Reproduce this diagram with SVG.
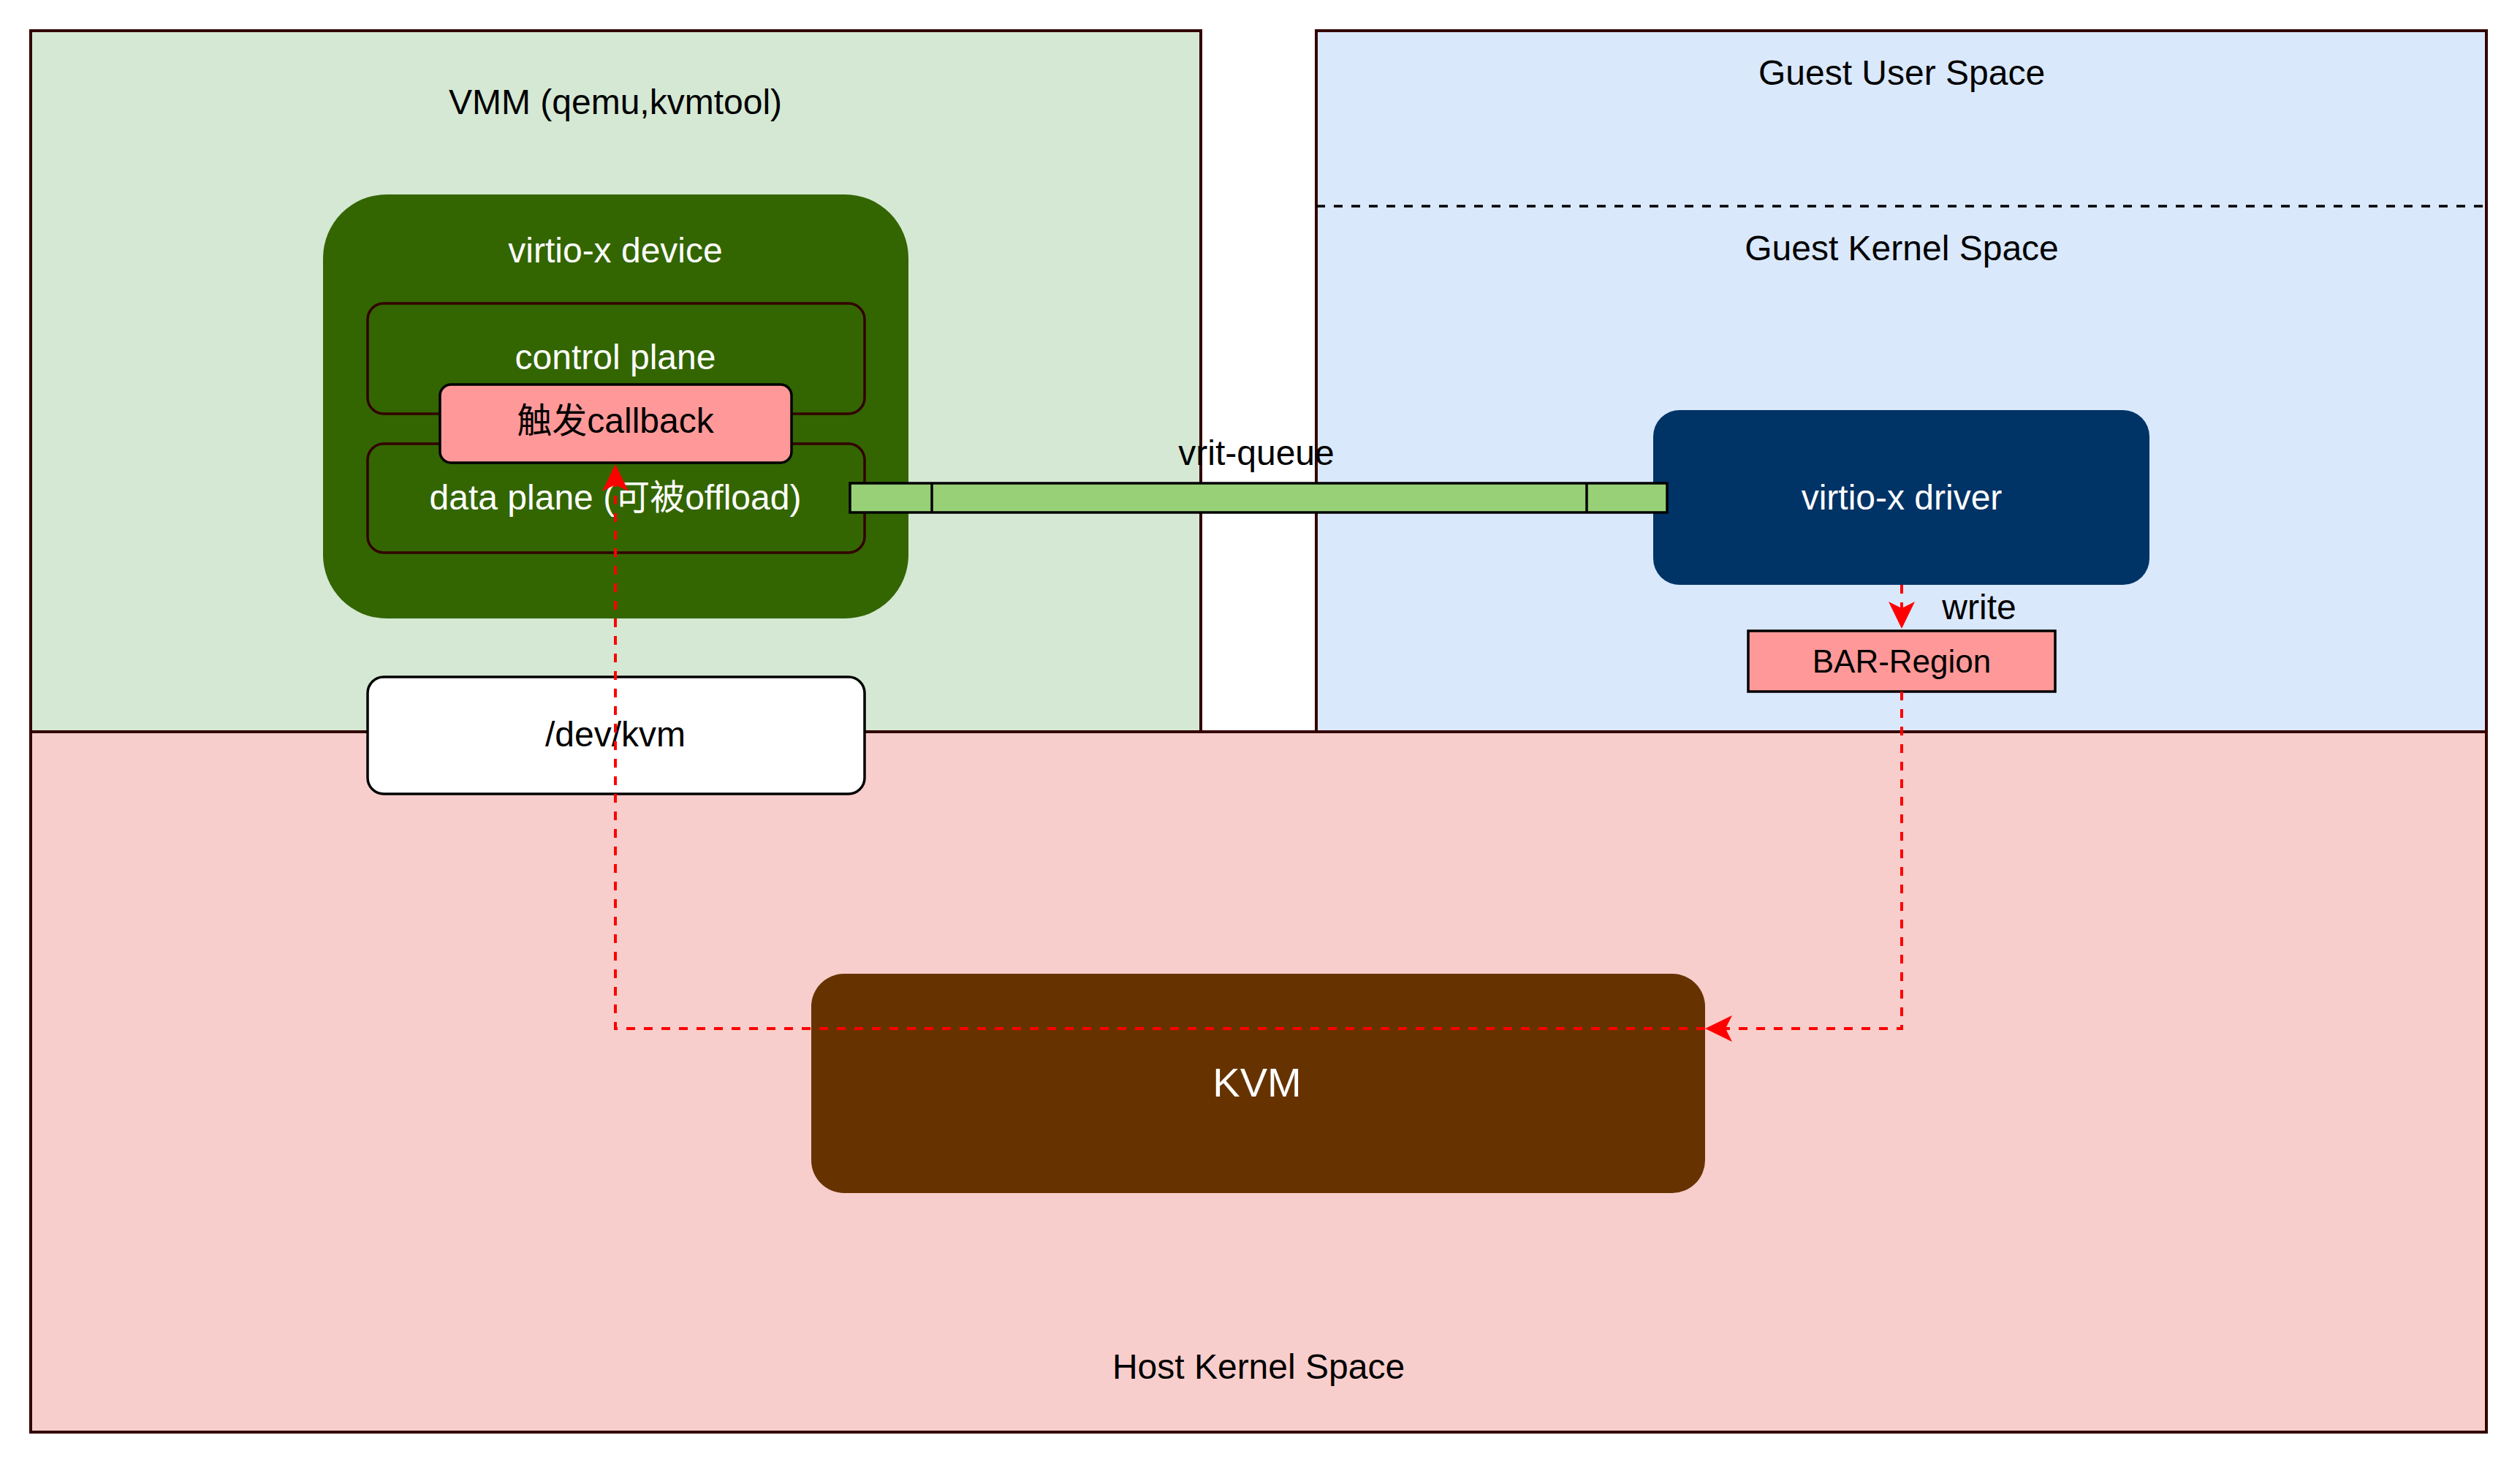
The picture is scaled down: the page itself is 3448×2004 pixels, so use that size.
<svg xmlns="http://www.w3.org/2000/svg" width="3448" height="2004" viewBox="0 0 3448 2004">
<style>
  text { font-family: "Liberation Sans", "Noto Sans CJK SC", Arial, sans-serif; font-size: 48px; text-anchor: middle; fill: #000000; }
  .w { fill: #ffffff; }
  .container { stroke: #330000; stroke-width: 4; }
  .inner { fill: #336600; stroke: #330000; stroke-width: 3.5; }
  .blk { stroke: #000000; stroke-width: 3.5; }
  .edge { fill: none; stroke: #ff0000; stroke-width: 4; stroke-dasharray: 12 12; }
</style>
<defs>
  <marker id="arr" markerUnits="userSpaceOnUse" viewBox="-40 -20 40 40" markerWidth="40" markerHeight="40" refX="-28" refY="0" orient="auto">
    <path d="M0,0 L-37,-18 L-28,0 L-37,18 Z" fill="#ff0000"/>
  </marker>
</defs>
<rect x="0" y="0" width="3448" height="2004" fill="#ffffff"/>

<g id="vmm">
  <rect class="container" x="42" y="42" width="1601" height="959" fill="#d5e8d4"/>
  <text x="842" y="156">VMM (qemu,kvmtool)</text>
</g>
<g id="guest">
  <rect class="container" x="1801" y="42" width="1601" height="959" fill="#dae8fc"/>
  <line x1="1801" y1="282" x2="3402" y2="282" stroke="#000000" stroke-width="3.5" stroke-dasharray="12 12"/>
  <text x="2602" y="116">Guest User Space</text>
  <text x="2602" y="356">Guest Kernel Space</text>
</g>
<g id="host">
  <rect class="container" x="42" y="1001" width="3360" height="958" fill="#f8cecc"/>
  <text x="1722" y="1886">Host Kernel Space</text>
</g>

<g id="device">
  <rect x="442" y="266" width="801" height="580" rx="87" ry="87" fill="#336600"/>
  <text class="w" x="842" y="359">virtio-x device</text>
</g>
<g id="control-plane">
  <rect class="inner" x="503" y="415" width="680" height="151" rx="22" ry="22"/>
  <text class="w" x="842" y="505">control plane</text>
</g>
<g id="data-plane">
  <rect class="inner" x="503" y="607" width="680" height="149" rx="22" ry="22"/>
  <text class="w" x="842" y="697">data plane (可被offload)</text>
</g>
<g id="callback">
  <rect class="blk" x="602" y="526" width="481" height="107" rx="15" ry="15" fill="#ff9999"/>
  <text x="842" y="592">触发callback</text>
</g>
<g id="devkvm">
  <rect class="blk" x="503" y="926" width="680" height="160" rx="22" ry="22" fill="#ffffff"/>
  <text x="842" y="1021">/dev/kvm</text>
</g>
<g id="driver">
  <rect x="2262" y="561" width="679" height="239" rx="36" ry="36" fill="#003366"/>
  <text class="w" x="2602" y="697">virtio-x driver</text>
</g>
<g id="vrit-queue">
  <rect class="blk" x="1163" y="661" width="1118" height="40" fill="#97d077"/>
  <line class="blk" x1="1275" y1="661" x2="1275" y2="701"/>
  <line class="blk" x1="2171" y1="661" x2="2171" y2="701"/>
  <text x="1719" y="636">vrit-queue</text>
</g>
<g id="bar-region">
  <rect class="blk" x="2392" y="863" width="420" height="83" fill="#ff9999"/>
  <text x="2602" y="920" style="font-size:44px">BAR-Region</text>
</g>
<g id="kvm">
  <rect x="1110" y="1332" width="1223" height="300" rx="45" ry="45" fill="#663300"/>
  <text class="w" x="1720" y="1500" style="font-size:56px">KVM</text>
</g>

<g id="connectors">
  <path class="edge" d="M2602,800 V832" marker-end="url(#arr)"/>
  <text x="2708" y="847">write</text>
  <path class="edge" d="M2602,946 V1407 H2361" marker-end="url(#arr)"/>
  <path class="edge" d="M2333,1407 H842 V663" marker-end="url(#arr)"/>
</g>
</svg>
